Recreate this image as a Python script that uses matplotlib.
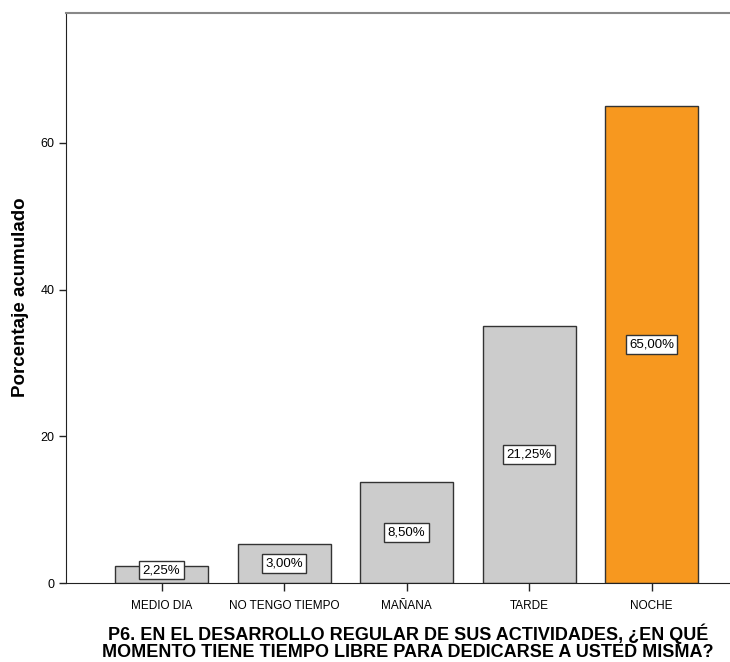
import matplotlib
matplotlib.use("Agg")
import matplotlib.pyplot as plt

# data
categorias = ["MEDIO DIA", "NO TENGO TIEMPO", "MAÑANA", "TARDE", "NOCHE"]
acumulado = [2.25, 5.25, 13.75, 35.0, 65.0]          # bar heights (porcentaje acumulado)
etiquetas = ["2,25%", "3,00%", "8,50%", "21,25%", "65,00%"]
colores = ["#cccccc", "#cccccc", "#cccccc", "#cccccc", "#f7981f"]
yticks = [0, 20, 40, 60]

plt.rcParams["font.family"] = ["Liberation Sans", "DejaVu Sans"]

fig = plt.figure(figsize=(7.3, 6.62), dpi=100)
ax = fig.add_axes([66 / 730, 1 - 583 / 662, 1 - 66 / 730, (583 - 13) / 662])

x = list(range(len(categorias)))
ax.bar(x, acumulado, width=0.76, color=colores, edgecolor="#333333", linewidth=1.0, zorder=2)

# labels sit at mid-height, but never below the axis line
for xi, h, lab in zip(x, acumulado, etiquetas):
    ax.text(xi, max(h / 2, 1.75), lab, ha="center", va="center", fontsize=9.5, zorder=3,
            bbox=dict(boxstyle="square,pad=0.25", facecolor="white", edgecolor="#333333", linewidth=1.0))

ax.set_xlim(-0.78, 4.64)
ax.set_ylim(0, 77.7)
ax.set_xticks(x)
ax.set_xticklabels(categorias, fontsize=8.5)
ax.set_yticks(yticks)
ax.tick_params(axis="y", labelsize=9, length=5, width=1, color="#222222")
ax.tick_params(axis="x", length=6, width=1, color="#222222", pad=6)

ax.spines["right"].set_visible(False)
ax.spines["top"].set_color("#888888")
ax.spines["top"].set_linewidth(1.5)
ax.spines["left"].set_color("#222222")
ax.spines["bottom"].set_color("#222222")

ax.set_ylabel("Porcentaje acumulado", fontsize=13.5, fontweight="bold")
ax.yaxis.set_label_coords(-(66 - 29) / (730 - 66), (583 - 297) / (583 - 13))

fig.text(408 / 730, 1 - 642 / 662,
         "P6. EN EL DESARROLLO REGULAR DE SUS ACTIVIDADES, ¿EN QUÉ\n"
         "MOMENTO TIENE TIEMPO LIBRE PARA DEDICARSE A USTED MISMA?",
         ha="center", va="center", fontsize=13, fontweight="bold", linespacing=1.0)

fig.savefig("out.png", dpi=100)
